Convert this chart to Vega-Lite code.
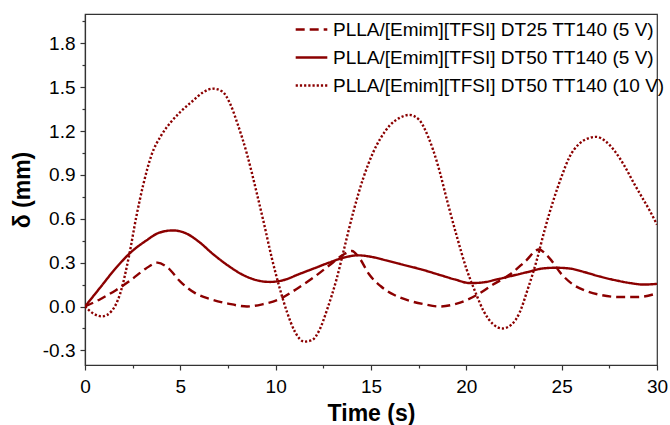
{
  "$schema": "https://vega.github.io/schema/vega-lite/v6.json",
  "width": 572,
  "height": 351,
  "autosize": {"type": "none"},
  "padding": {"left": 85, "top": 14, "right": 13, "bottom": 60},
  "background": "white",
  "config": {
    "font": "Liberation Sans",
    "view": {"stroke": "#333", "strokeWidth": 1.2},
    "axis": {
      "grid": false,
      "domainColor": "#333",
      "domainWidth": 1.2,
      "tickColor": "#333",
      "tickWidth": 1.2,
      "labelColor": "black",
      "labelFont": "Liberation Sans",
      "labelFontSize": 19,
      "titleFont": "Liberation Sans",
      "titleFontWeight": "bold",
      "titleFontSize": 23,
      "titleColor": "black"
    }
  },
  "data": {
    "values": [
      {"t": 0, "v": 0, "s": "PLLA/[Emim][TFSI] DT25 TT140 (5 V)"},
      {"t": 0.8, "v": 0.05, "s": "PLLA/[Emim][TFSI] DT25 TT140 (5 V)"},
      {"t": 1.6, "v": 0.11, "s": "PLLA/[Emim][TFSI] DT25 TT140 (5 V)"},
      {"t": 2.4, "v": 0.18, "s": "PLLA/[Emim][TFSI] DT25 TT140 (5 V)"},
      {"t": 3.2, "v": 0.26, "s": "PLLA/[Emim][TFSI] DT25 TT140 (5 V)"},
      {"t": 3.8, "v": 0.3, "s": "PLLA/[Emim][TFSI] DT25 TT140 (5 V)"},
      {"t": 4.3, "v": 0.27, "s": "PLLA/[Emim][TFSI] DT25 TT140 (5 V)"},
      {"t": 5.0, "v": 0.17, "s": "PLLA/[Emim][TFSI] DT25 TT140 (5 V)"},
      {"t": 5.8, "v": 0.09, "s": "PLLA/[Emim][TFSI] DT25 TT140 (5 V)"},
      {"t": 6.6, "v": 0.05, "s": "PLLA/[Emim][TFSI] DT25 TT140 (5 V)"},
      {"t": 7.5, "v": 0.02, "s": "PLLA/[Emim][TFSI] DT25 TT140 (5 V)"},
      {"t": 8.5, "v": 0.0, "s": "PLLA/[Emim][TFSI] DT25 TT140 (5 V)"},
      {"t": 9.3, "v": 0.015, "s": "PLLA/[Emim][TFSI] DT25 TT140 (5 V)"},
      {"t": 10.2, "v": 0.05, "s": "PLLA/[Emim][TFSI] DT25 TT140 (5 V)"},
      {"t": 11.1, "v": 0.12, "s": "PLLA/[Emim][TFSI] DT25 TT140 (5 V)"},
      {"t": 12.0, "v": 0.2, "s": "PLLA/[Emim][TFSI] DT25 TT140 (5 V)"},
      {"t": 12.8, "v": 0.28, "s": "PLLA/[Emim][TFSI] DT25 TT140 (5 V)"},
      {"t": 13.5, "v": 0.35, "s": "PLLA/[Emim][TFSI] DT25 TT140 (5 V)"},
      {"t": 14.0, "v": 0.38, "s": "PLLA/[Emim][TFSI] DT25 TT140 (5 V)"},
      {"t": 14.4, "v": 0.33, "s": "PLLA/[Emim][TFSI] DT25 TT140 (5 V)"},
      {"t": 14.9, "v": 0.22, "s": "PLLA/[Emim][TFSI] DT25 TT140 (5 V)"},
      {"t": 15.5, "v": 0.14, "s": "PLLA/[Emim][TFSI] DT25 TT140 (5 V)"},
      {"t": 16.2, "v": 0.08, "s": "PLLA/[Emim][TFSI] DT25 TT140 (5 V)"},
      {"t": 17.0, "v": 0.04, "s": "PLLA/[Emim][TFSI] DT25 TT140 (5 V)"},
      {"t": 17.8, "v": 0.015, "s": "PLLA/[Emim][TFSI] DT25 TT140 (5 V)"},
      {"t": 18.6, "v": 0.0, "s": "PLLA/[Emim][TFSI] DT25 TT140 (5 V)"},
      {"t": 19.5, "v": 0.02, "s": "PLLA/[Emim][TFSI] DT25 TT140 (5 V)"},
      {"t": 20.5, "v": 0.075, "s": "PLLA/[Emim][TFSI] DT25 TT140 (5 V)"},
      {"t": 21.4, "v": 0.15, "s": "PLLA/[Emim][TFSI] DT25 TT140 (5 V)"},
      {"t": 22.3, "v": 0.22, "s": "PLLA/[Emim][TFSI] DT25 TT140 (5 V)"},
      {"t": 23.1, "v": 0.31, "s": "PLLA/[Emim][TFSI] DT25 TT140 (5 V)"},
      {"t": 23.8, "v": 0.39, "s": "PLLA/[Emim][TFSI] DT25 TT140 (5 V)"},
      {"t": 24.3, "v": 0.34, "s": "PLLA/[Emim][TFSI] DT25 TT140 (5 V)"},
      {"t": 25.0, "v": 0.22, "s": "PLLA/[Emim][TFSI] DT25 TT140 (5 V)"},
      {"t": 25.6, "v": 0.15, "s": "PLLA/[Emim][TFSI] DT25 TT140 (5 V)"},
      {"t": 26.2, "v": 0.11, "s": "PLLA/[Emim][TFSI] DT25 TT140 (5 V)"},
      {"t": 27.0, "v": 0.08, "s": "PLLA/[Emim][TFSI] DT25 TT140 (5 V)"},
      {"t": 28.0, "v": 0.065, "s": "PLLA/[Emim][TFSI] DT25 TT140 (5 V)"},
      {"t": 29.0, "v": 0.065, "s": "PLLA/[Emim][TFSI] DT25 TT140 (5 V)"},
      {"t": 30.0, "v": 0.09, "s": "PLLA/[Emim][TFSI] DT25 TT140 (5 V)"},
      {"t": 0, "v": 0, "s": "PLLA/[Emim][TFSI] DT50 TT140 (5 V)"},
      {"t": 0.8, "v": 0.13, "s": "PLLA/[Emim][TFSI] DT50 TT140 (5 V)"},
      {"t": 1.6, "v": 0.26, "s": "PLLA/[Emim][TFSI] DT50 TT140 (5 V)"},
      {"t": 2.4, "v": 0.37, "s": "PLLA/[Emim][TFSI] DT50 TT140 (5 V)"},
      {"t": 3.2, "v": 0.45, "s": "PLLA/[Emim][TFSI] DT50 TT140 (5 V)"},
      {"t": 3.9, "v": 0.505, "s": "PLLA/[Emim][TFSI] DT50 TT140 (5 V)"},
      {"t": 4.6, "v": 0.52, "s": "PLLA/[Emim][TFSI] DT50 TT140 (5 V)"},
      {"t": 5.3, "v": 0.5, "s": "PLLA/[Emim][TFSI] DT50 TT140 (5 V)"},
      {"t": 6.0, "v": 0.44, "s": "PLLA/[Emim][TFSI] DT50 TT140 (5 V)"},
      {"t": 6.7, "v": 0.36, "s": "PLLA/[Emim][TFSI] DT50 TT140 (5 V)"},
      {"t": 7.5, "v": 0.28, "s": "PLLA/[Emim][TFSI] DT50 TT140 (5 V)"},
      {"t": 8.3, "v": 0.215, "s": "PLLA/[Emim][TFSI] DT50 TT140 (5 V)"},
      {"t": 9.0, "v": 0.18, "s": "PLLA/[Emim][TFSI] DT50 TT140 (5 V)"},
      {"t": 9.7, "v": 0.168, "s": "PLLA/[Emim][TFSI] DT50 TT140 (5 V)"},
      {"t": 10.4, "v": 0.18, "s": "PLLA/[Emim][TFSI] DT50 TT140 (5 V)"},
      {"t": 11.2, "v": 0.22, "s": "PLLA/[Emim][TFSI] DT50 TT140 (5 V)"},
      {"t": 12.0, "v": 0.26, "s": "PLLA/[Emim][TFSI] DT50 TT140 (5 V)"},
      {"t": 12.8, "v": 0.3, "s": "PLLA/[Emim][TFSI] DT50 TT140 (5 V)"},
      {"t": 13.6, "v": 0.335, "s": "PLLA/[Emim][TFSI] DT50 TT140 (5 V)"},
      {"t": 14.3, "v": 0.35, "s": "PLLA/[Emim][TFSI] DT50 TT140 (5 V)"},
      {"t": 15.0, "v": 0.34, "s": "PLLA/[Emim][TFSI] DT50 TT140 (5 V)"},
      {"t": 15.8, "v": 0.315, "s": "PLLA/[Emim][TFSI] DT50 TT140 (5 V)"},
      {"t": 16.7, "v": 0.285, "s": "PLLA/[Emim][TFSI] DT50 TT140 (5 V)"},
      {"t": 17.6, "v": 0.255, "s": "PLLA/[Emim][TFSI] DT50 TT140 (5 V)"},
      {"t": 18.5, "v": 0.22, "s": "PLLA/[Emim][TFSI] DT50 TT140 (5 V)"},
      {"t": 19.4, "v": 0.185, "s": "PLLA/[Emim][TFSI] DT50 TT140 (5 V)"},
      {"t": 20.2, "v": 0.16, "s": "PLLA/[Emim][TFSI] DT50 TT140 (5 V)"},
      {"t": 20.9, "v": 0.165, "s": "PLLA/[Emim][TFSI] DT50 TT140 (5 V)"},
      {"t": 21.6, "v": 0.185, "s": "PLLA/[Emim][TFSI] DT50 TT140 (5 V)"},
      {"t": 22.4, "v": 0.21, "s": "PLLA/[Emim][TFSI] DT50 TT140 (5 V)"},
      {"t": 23.2, "v": 0.235, "s": "PLLA/[Emim][TFSI] DT50 TT140 (5 V)"},
      {"t": 24.0, "v": 0.26, "s": "PLLA/[Emim][TFSI] DT50 TT140 (5 V)"},
      {"t": 24.7, "v": 0.265, "s": "PLLA/[Emim][TFSI] DT50 TT140 (5 V)"},
      {"t": 25.4, "v": 0.26, "s": "PLLA/[Emim][TFSI] DT50 TT140 (5 V)"},
      {"t": 26.2, "v": 0.235, "s": "PLLA/[Emim][TFSI] DT50 TT140 (5 V)"},
      {"t": 27.0, "v": 0.205, "s": "PLLA/[Emim][TFSI] DT50 TT140 (5 V)"},
      {"t": 27.8, "v": 0.18, "s": "PLLA/[Emim][TFSI] DT50 TT140 (5 V)"},
      {"t": 28.6, "v": 0.16, "s": "PLLA/[Emim][TFSI] DT50 TT140 (5 V)"},
      {"t": 29.3, "v": 0.15, "s": "PLLA/[Emim][TFSI] DT50 TT140 (5 V)"},
      {"t": 30.0, "v": 0.155, "s": "PLLA/[Emim][TFSI] DT50 TT140 (5 V)"},
      {"t": 0, "v": 0, "s": "PLLA/[Emim][TFSI] DT50 TT140 (10 V)"},
      {"t": 0.4, "v": -0.045, "s": "PLLA/[Emim][TFSI] DT50 TT140 (10 V)"},
      {"t": 0.9, "v": -0.068, "s": "PLLA/[Emim][TFSI] DT50 TT140 (10 V)"},
      {"t": 1.4, "v": -0.03, "s": "PLLA/[Emim][TFSI] DT50 TT140 (10 V)"},
      {"t": 1.85, "v": 0.09, "s": "PLLA/[Emim][TFSI] DT50 TT140 (10 V)"},
      {"t": 2.3, "v": 0.34, "s": "PLLA/[Emim][TFSI] DT50 TT140 (10 V)"},
      {"t": 2.7, "v": 0.62, "s": "PLLA/[Emim][TFSI] DT50 TT140 (10 V)"},
      {"t": 3.05, "v": 0.83, "s": "PLLA/[Emim][TFSI] DT50 TT140 (10 V)"},
      {"t": 3.5, "v": 1.04, "s": "PLLA/[Emim][TFSI] DT50 TT140 (10 V)"},
      {"t": 4.0, "v": 1.17, "s": "PLLA/[Emim][TFSI] DT50 TT140 (10 V)"},
      {"t": 4.5, "v": 1.26, "s": "PLLA/[Emim][TFSI] DT50 TT140 (10 V)"},
      {"t": 5.0, "v": 1.33, "s": "PLLA/[Emim][TFSI] DT50 TT140 (10 V)"},
      {"t": 5.6, "v": 1.4, "s": "PLLA/[Emim][TFSI] DT50 TT140 (10 V)"},
      {"t": 6.2, "v": 1.465, "s": "PLLA/[Emim][TFSI] DT50 TT140 (10 V)"},
      {"t": 6.7, "v": 1.49, "s": "PLLA/[Emim][TFSI] DT50 TT140 (10 V)"},
      {"t": 7.2, "v": 1.47, "s": "PLLA/[Emim][TFSI] DT50 TT140 (10 V)"},
      {"t": 7.6, "v": 1.39, "s": "PLLA/[Emim][TFSI] DT50 TT140 (10 V)"},
      {"t": 8.0, "v": 1.25, "s": "PLLA/[Emim][TFSI] DT50 TT140 (10 V)"},
      {"t": 8.5, "v": 1.04, "s": "PLLA/[Emim][TFSI] DT50 TT140 (10 V)"},
      {"t": 9.0, "v": 0.78, "s": "PLLA/[Emim][TFSI] DT50 TT140 (10 V)"},
      {"t": 9.4, "v": 0.56, "s": "PLLA/[Emim][TFSI] DT50 TT140 (10 V)"},
      {"t": 9.8, "v": 0.33, "s": "PLLA/[Emim][TFSI] DT50 TT140 (10 V)"},
      {"t": 10.2, "v": 0.13, "s": "PLLA/[Emim][TFSI] DT50 TT140 (10 V)"},
      {"t": 10.6, "v": -0.04, "s": "PLLA/[Emim][TFSI] DT50 TT140 (10 V)"},
      {"t": 11.0, "v": -0.17, "s": "PLLA/[Emim][TFSI] DT50 TT140 (10 V)"},
      {"t": 11.5, "v": -0.24, "s": "PLLA/[Emim][TFSI] DT50 TT140 (10 V)"},
      {"t": 11.9, "v": -0.23, "s": "PLLA/[Emim][TFSI] DT50 TT140 (10 V)"},
      {"t": 12.3, "v": -0.16, "s": "PLLA/[Emim][TFSI] DT50 TT140 (10 V)"},
      {"t": 12.7, "v": -0.02, "s": "PLLA/[Emim][TFSI] DT50 TT140 (10 V)"},
      {"t": 13.2, "v": 0.19, "s": "PLLA/[Emim][TFSI] DT50 TT140 (10 V)"},
      {"t": 13.6, "v": 0.4, "s": "PLLA/[Emim][TFSI] DT50 TT140 (10 V)"},
      {"t": 14.1, "v": 0.66, "s": "PLLA/[Emim][TFSI] DT50 TT140 (10 V)"},
      {"t": 14.6, "v": 0.88, "s": "PLLA/[Emim][TFSI] DT50 TT140 (10 V)"},
      {"t": 15.1, "v": 1.05, "s": "PLLA/[Emim][TFSI] DT50 TT140 (10 V)"},
      {"t": 15.5, "v": 1.15, "s": "PLLA/[Emim][TFSI] DT50 TT140 (10 V)"},
      {"t": 16.0, "v": 1.24, "s": "PLLA/[Emim][TFSI] DT50 TT140 (10 V)"},
      {"t": 16.5, "v": 1.29, "s": "PLLA/[Emim][TFSI] DT50 TT140 (10 V)"},
      {"t": 17.0, "v": 1.31, "s": "PLLA/[Emim][TFSI] DT50 TT140 (10 V)"},
      {"t": 17.5, "v": 1.28, "s": "PLLA/[Emim][TFSI] DT50 TT140 (10 V)"},
      {"t": 18.0, "v": 1.16, "s": "PLLA/[Emim][TFSI] DT50 TT140 (10 V)"},
      {"t": 18.5, "v": 0.97, "s": "PLLA/[Emim][TFSI] DT50 TT140 (10 V)"},
      {"t": 19.0, "v": 0.72, "s": "PLLA/[Emim][TFSI] DT50 TT140 (10 V)"},
      {"t": 19.5, "v": 0.48, "s": "PLLA/[Emim][TFSI] DT50 TT140 (10 V)"},
      {"t": 20.0, "v": 0.26, "s": "PLLA/[Emim][TFSI] DT50 TT140 (10 V)"},
      {"t": 20.5, "v": 0.09, "s": "PLLA/[Emim][TFSI] DT50 TT140 (10 V)"},
      {"t": 20.9, "v": -0.03, "s": "PLLA/[Emim][TFSI] DT50 TT140 (10 V)"},
      {"t": 21.4, "v": -0.12, "s": "PLLA/[Emim][TFSI] DT50 TT140 (10 V)"},
      {"t": 21.9, "v": -0.15, "s": "PLLA/[Emim][TFSI] DT50 TT140 (10 V)"},
      {"t": 22.4, "v": -0.12, "s": "PLLA/[Emim][TFSI] DT50 TT140 (10 V)"},
      {"t": 22.8, "v": -0.04, "s": "PLLA/[Emim][TFSI] DT50 TT140 (10 V)"},
      {"t": 23.2, "v": 0.11, "s": "PLLA/[Emim][TFSI] DT50 TT140 (10 V)"},
      {"t": 23.7, "v": 0.32, "s": "PLLA/[Emim][TFSI] DT50 TT140 (10 V)"},
      {"t": 24.1, "v": 0.52, "s": "PLLA/[Emim][TFSI] DT50 TT140 (10 V)"},
      {"t": 24.6, "v": 0.74, "s": "PLLA/[Emim][TFSI] DT50 TT140 (10 V)"},
      {"t": 25.0, "v": 0.89, "s": "PLLA/[Emim][TFSI] DT50 TT140 (10 V)"},
      {"t": 25.4, "v": 1.02, "s": "PLLA/[Emim][TFSI] DT50 TT140 (10 V)"},
      {"t": 25.9, "v": 1.11, "s": "PLLA/[Emim][TFSI] DT50 TT140 (10 V)"},
      {"t": 26.4, "v": 1.15, "s": "PLLA/[Emim][TFSI] DT50 TT140 (10 V)"},
      {"t": 26.8, "v": 1.16, "s": "PLLA/[Emim][TFSI] DT50 TT140 (10 V)"},
      {"t": 27.3, "v": 1.13, "s": "PLLA/[Emim][TFSI] DT50 TT140 (10 V)"},
      {"t": 27.8, "v": 1.06, "s": "PLLA/[Emim][TFSI] DT50 TT140 (10 V)"},
      {"t": 28.3, "v": 0.96, "s": "PLLA/[Emim][TFSI] DT50 TT140 (10 V)"},
      {"t": 28.8, "v": 0.84, "s": "PLLA/[Emim][TFSI] DT50 TT140 (10 V)"},
      {"t": 29.2, "v": 0.75, "s": "PLLA/[Emim][TFSI] DT50 TT140 (10 V)"},
      {"t": 29.6, "v": 0.66, "s": "PLLA/[Emim][TFSI] DT50 TT140 (10 V)"},
      {"t": 30.0, "v": 0.56, "s": "PLLA/[Emim][TFSI] DT50 TT140 (10 V)"}
    ]
  },
  "mark": {"type": "line", "interpolate": "monotone", "color": "#8b0000", "clip": true, "strokeCap": "butt", "strokeWidth": 2.4},
  "encoding": {
    "x": {
      "field": "t",
      "type": "quantitative",
      "scale": {"domain": [0, 30], "nice": false, "zero": false},
      "axis": {
        "title": "Time (s)",
        "values": [0, 2.5, 5, 7.5, 10, 12.5, 15, 17.5, 20, 22.5, 25, 27.5, 30],
        "labelExpr": "datum.value % 5 === 0 ? datum.label : ''",
        "tickSize": {"condition": {"test": "datum.value % 5 === 0", "value": 5}, "value": 3},
        "labelPadding": 7,
        "labelFlush": false,
        "titlePadding": 6
      }
    },
    "y": {
      "field": "v",
      "type": "quantitative",
      "scale": {"domain": [-0.4, 2.0], "nice": false, "zero": false},
      "axis": {
        "title": "δ (mm)",
        "values": [-0.3, -0.15, 0, 0.15, 0.3, 0.45, 0.6, 0.75, 0.9, 1.05, 1.2, 1.35, 1.5, 1.65, 1.8, 1.95],
        "labelExpr": "abs(round(datum.value * 100)) % 30 === 0 ? replace(format(datum.value, '.1f'), '\u2212', '-') : ''",
        "tickSize": {"condition": {"test": "abs(round(datum.value * 100)) % 30 === 0", "value": 5}, "value": 3},
        "labelPadding": 5,
        "labelFlush": false,
        "titlePadding": 8
      }
    },
    "strokeDash": {
      "field": "s",
      "type": "nominal",
      "scale": {
        "domain": ["PLLA/[Emim][TFSI] DT25 TT140 (5 V)", "PLLA/[Emim][TFSI] DT50 TT140 (5 V)", "PLLA/[Emim][TFSI] DT50 TT140 (10 V)"],
        "range": [[9, 5], [1, 0], [2.2, 2]]
      },
      "legend": {
        "title": null,
        "orient": "none",
        "legendX": 209,
        "legendY": -2,
        "symbolType": "stroke",
        "symbolSize": 1000,
        "symbolStrokeColor": "#8b0000",
        "symbolStrokeWidth": 2.4,
        "labelFont": "Liberation Sans",
        "labelFontSize": 19,
        "labelColor": "black",
        "labelLimit": 400,
        "labelOffset": 4,
        "rowPadding": -9
      }
    }
  }
}
